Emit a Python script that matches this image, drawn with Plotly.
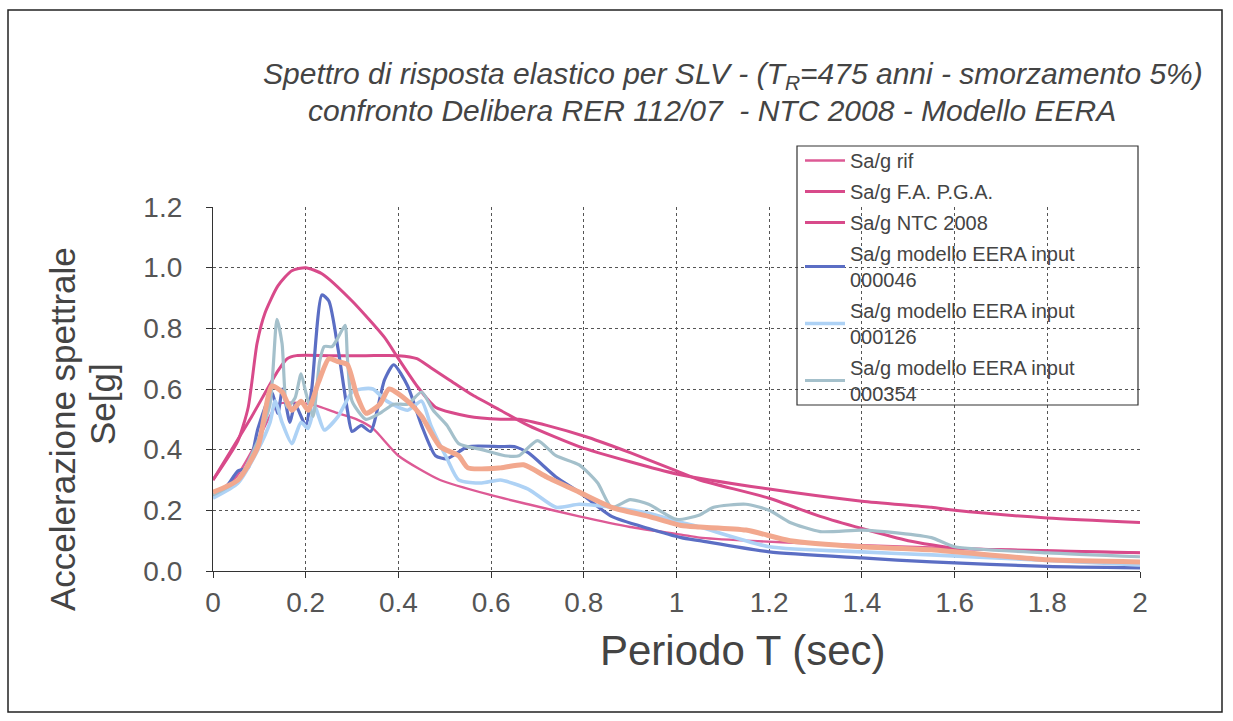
import plotly.graph_objects as go

# ---- spectra (period T in s, Sa/g) ----
t_rif = [0, 0.05, 0.10, 0.14, 0.21, 0.27, 0.31, 0.345, 0.40, 0.49, 0.60, 0.68, 0.79, 0.90, 1.01, 1.05,
         1.15, 1.30, 1.50, 1.70, 2.00]
sa_rif = [0.25, 0.31, 0.44, 0.55, 0.55, 0.52, 0.50, 0.47, 0.38, 0.30, 0.25, 0.22, 0.18, 0.145, 0.12, 0.11,
          0.10, 0.09, 0.08, 0.07, 0.06]

t_fapga = [0, 0.054, 0.076, 0.095, 0.112, 0.14, 0.17, 0.20, 0.235, 0.30, 0.37, 0.40, 0.44, 0.48, 0.55, 0.62,
           0.66, 0.72, 0.81, 0.90, 1.00, 1.05, 1.20, 1.31, 1.40, 1.50, 1.60, 1.72, 1.85, 2.00]
sa_fapga = [0.30, 0.43, 0.54, 0.75, 0.85, 0.94, 0.99, 1.00, 0.98, 0.89, 0.77, 0.70, 0.61, 0.54, 0.51, 0.50,
            0.50, 0.48, 0.44, 0.39, 0.33, 0.30, 0.24, 0.18, 0.14, 0.10, 0.075, 0.07, 0.065, 0.06]

t_ntc = [0, 0.08, 0.14, 0.16, 0.18, 0.25, 0.33, 0.40, 0.44, 0.47, 0.51, 0.56, 0.62, 0.68, 0.79, 0.90, 1.00,
         1.20, 1.40, 1.55, 1.60, 1.80, 2.00]
sa_ntc = [0.30, 0.50, 0.66, 0.70, 0.71, 0.71, 0.71, 0.71, 0.70, 0.67, 0.63, 0.58, 0.53, 0.48, 0.41, 0.36,
          0.32, 0.27, 0.23, 0.21, 0.20, 0.175, 0.16]

t_046 = [0, 0.03, 0.054, 0.076, 0.097, 0.127, 0.14, 0.15, 0.166, 0.177, 0.20, 0.213, 0.235, 0.25, 0.27,
         0.29, 0.30, 0.32, 0.34, 0.37, 0.39, 0.42, 0.45, 0.48, 0.505, 0.55, 0.62, 0.65, 0.68, 0.74, 0.79,
         0.86, 0.94, 1.01, 1.05, 1.20, 1.40, 1.55, 1.80, 2.00]
sa_046 = [0.25, 0.28, 0.33, 0.34, 0.47, 0.59, 0.52, 0.60, 0.49, 0.55, 0.48, 0.60, 0.91, 0.89, 0.73,
          0.53, 0.46, 0.48, 0.46, 0.63, 0.68, 0.61, 0.48, 0.38, 0.37, 0.41, 0.41, 0.41, 0.39, 0.31, 0.26,
          0.18, 0.14, 0.11, 0.10, 0.063, 0.043, 0.03, 0.015, 0.01]

t_126 = [0, 0.054, 0.097, 0.123, 0.134, 0.149, 0.17, 0.19, 0.205, 0.22, 0.24, 0.27, 0.30, 0.32, 0.345,
         0.375, 0.42, 0.45, 0.47, 0.505, 0.53, 0.58, 0.62, 0.68, 0.74, 0.79, 0.86, 0.94, 1.01, 1.05, 1.20,
         1.40, 1.55, 1.80, 2.00]
sa_126 = [0.24, 0.29, 0.40, 0.49, 0.56, 0.49, 0.42, 0.49, 0.47, 0.54, 0.465, 0.51, 0.59, 0.60, 0.60,
          0.56, 0.53, 0.56, 0.48, 0.37, 0.30, 0.29, 0.30, 0.27, 0.21, 0.22, 0.21, 0.19, 0.16, 0.145, 0.08,
          0.063, 0.053, 0.035, 0.02]

t_354 = [0, 0.054, 0.097, 0.123, 0.138, 0.149, 0.16, 0.177, 0.19, 0.20, 0.216, 0.23, 0.24, 0.257, 0.27,
         0.285, 0.29, 0.30, 0.33, 0.36, 0.39, 0.42, 0.45, 0.475, 0.505, 0.53, 0.58, 0.63, 0.66, 0.70, 0.74,
         0.79, 0.83, 0.86, 0.90, 0.94, 1.00, 1.05, 1.08, 1.15, 1.20, 1.245, 1.31, 1.40, 1.48, 1.55, 1.60,
         1.80, 2.00]
sa_354 = [0.25, 0.30, 0.43, 0.55, 0.83, 0.75, 0.54, 0.57, 0.65, 0.59, 0.51, 0.69, 0.74, 0.74, 0.77,
          0.81, 0.70, 0.56, 0.50, 0.52, 0.55, 0.55, 0.59, 0.53, 0.48, 0.42, 0.40, 0.38, 0.38, 0.43, 0.38,
          0.35, 0.29, 0.21, 0.235, 0.22, 0.17, 0.185, 0.21, 0.22, 0.20, 0.16, 0.13, 0.135, 0.125, 0.11, 0.08,
          0.06, 0.047]

t_mean = [0, 0.054, 0.097, 0.127, 0.149, 0.17, 0.19, 0.205, 0.227, 0.25, 0.27, 0.29, 0.31, 0.33, 0.36,
          0.38, 0.42, 0.45, 0.49, 0.53, 0.55, 0.62, 0.67, 0.72, 0.79, 0.86, 0.94, 1.01, 1.05, 1.15, 1.245,
          1.40, 1.55, 1.80, 2.00]
sa_mean = [0.26, 0.30, 0.41, 0.61, 0.59, 0.53, 0.56, 0.53, 0.62, 0.70, 0.69, 0.68, 0.58, 0.52, 0.55,
           0.60, 0.56, 0.51, 0.41, 0.38, 0.34, 0.34, 0.35, 0.31, 0.26, 0.21, 0.18, 0.15, 0.145, 0.135, 0.10,
           0.08, 0.07, 0.037, 0.03]

x_ticks = [0, 0.2, 0.4, 0.6, 0.8, 1, 1.2, 1.4, 1.6, 1.8, 2]
y_ticks = [0.0, 0.2, 0.4, 0.6, 0.8, 1.0, 1.2]

MAGENTA = "#d84a8a"
series = [
    ("Sa/g rif", t_rif, sa_rif, "#dd5a95", 2.4, True),
    ("Sa/g F.A. P.G.A.", t_fapga, sa_fapga, MAGENTA, 3.0, True),
    ("Sa/g NTC 2008", t_ntc, sa_ntc, MAGENTA, 3.0, True),
    ("Sa/g modello EERA input<br>000046", t_046, sa_046, "#5b6ec4", 3.2, True),
    ("Sa/g modello EERA input<br>000126", t_126, sa_126, "#aed2f5", 3.6, True),
    ("Sa/g modello EERA input<br>000354", t_354, sa_354, "#a4c0cb", 3.2, True),
    ("Sa/g media EERA", t_mean, sa_mean, "#f2a88e", 5.0, False),
]

fig = go.Figure()
for i, (name, t, sa, col, w, leg) in enumerate(series):
    fig.add_trace(go.Scatter(
        x=t, y=sa, mode="lines", name=name, showlegend=leg,
        legendgroup=f"g{i}",
        line=dict(color=col, width=w, shape="spline", smoothing=0.6),
    ))

FONT = "Liberation Sans, Arial, sans-serif"
L, R, T, B = 213, 93, 207, 150
W, H = 1233, 721
pw, ph = W - L - R, H - T - B


def px_x(p):
    return (p - L) / pw


def px_y(p):
    return (H - B - p) / ph


fig.update_layout(
    width=W, height=H,
    margin=dict(l=L, r=R, t=T, b=B),
    paper_bgcolor="white", plot_bgcolor="white",
    font=dict(family=FONT, color="#444"),
    showlegend=True,
    legend=dict(
        x=px_x(800), y=px_y(141), xanchor="left", yanchor="top",
        bgcolor="rgba(255,255,255,0)", borderwidth=0,
        font=dict(size=20, color="#444", family=FONT),
        tracegroupgap=2, itemwidth=40,
    ),
    xaxis=dict(
        range=[0, 2], tickvals=x_ticks,
        ticks="outside", ticklen=6, tickcolor="#333",
        showline=True, linecolor="#333", linewidth=1.2,
        showgrid=True, gridcolor="#555", griddash="dot", gridwidth=1,
        zeroline=False,
        tickfont=dict(size=28, color="#555", family=FONT),
    ),
    yaxis=dict(
        range=[0, 1.2], tickvals=y_ticks, tickformat=".1f",
        ticks="outside", ticklen=6, tickcolor="#333",
        showline=True, linecolor="#333", linewidth=1.2,
        showgrid=True, gridcolor="#555", griddash="dot", gridwidth=1,
        zeroline=False, ticklabelstandoff=18,
        tickfont=dict(size=28, color="#555", family=FONT),
    ),
)

# chart titles and axis titles
fig.add_annotation(
    x=px_x(733), y=px_y(76), xref="paper", yref="paper", showarrow=False,
    text="<i>Spettro di risposta elastico per SLV - (T<sub>R</sub>=475 anni - smorzamento 5%)</i>",
    font=dict(size=30, color="#444", family=FONT), xanchor="center", yanchor="middle",
)
fig.add_annotation(
    x=px_x(712), y=px_y(110), xref="paper", yref="paper", showarrow=False,
    text="<i>confronto Delibera RER 112/07  - NTC 2008 - Modello EERA</i>",
    font=dict(size=30, color="#444", family=FONT), xanchor="center", yanchor="middle",
)
fig.add_annotation(
    x=px_x(743), y=px_y(650), xref="paper", yref="paper", showarrow=False,
    text="Periodo T (sec)", font=dict(size=42, color="#444", family=FONT),
    xanchor="center", yanchor="middle",
)
fig.add_annotation(
    x=px_x(62), y=px_y(429), xref="paper", yref="paper", showarrow=False,
    text="Accelerazione spettrale", textangle=-90,
    font=dict(size=35, color="#444", family=FONT), xanchor="center", yanchor="middle",
)
fig.add_annotation(
    x=px_x(102), y=px_y(404), xref="paper", yref="paper", showarrow=False,
    text="Se[g]", textangle=-90,
    font=dict(size=35, color="#444", family=FONT), xanchor="center", yanchor="middle",
)

# legend frame and outer chart frame
fig.add_shape(type="rect", xref="paper", yref="paper",
              x0=px_x(797), x1=px_x(1138), y0=px_y(405), y1=px_y(146),
              line=dict(color="#333", width=1.2), fillcolor="rgba(0,0,0,0)", layer="above")
fig.add_shape(type="rect", xref="paper", yref="paper",
              x0=px_x(8), x1=px_x(1222), y0=px_y(712), y1=px_y(10),
              line=dict(color="#222", width=1.5), fillcolor="rgba(0,0,0,0)", layer="above")

fig.write_html("out.html")
